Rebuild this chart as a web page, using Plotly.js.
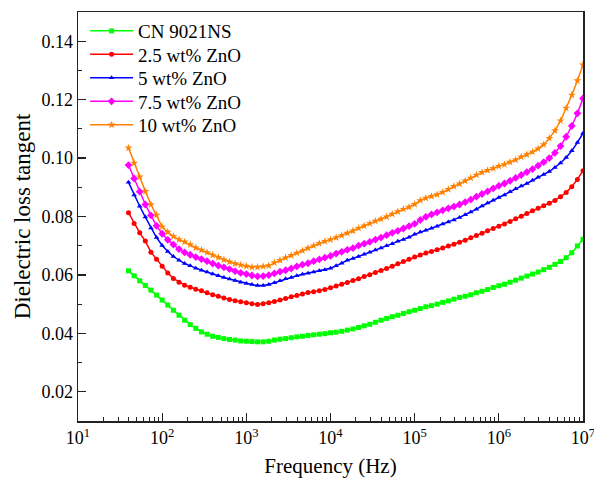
<!DOCTYPE html>
<html><head><meta charset="utf-8">
<script src="https://cdn.plot.ly/plotly-3.0.1.min.js"></script>
<style>html,body{margin:0;padding:0;background:#fff;}#chart{width:594px;height:485px;}</style>
</head><body><div id="chart"></div>
<script>
// Frequency (Hz)
const freq = [
  39.81, 46.42, 54.12, 63.10, 73.56, 85.77,
  100, 116.6, 135.9, 158.5, 184.8, 215.4, 251.2, 292.9, 341.5, 398.1, 464.2, 541.2, 631.0, 735.6, 857.7,
  1000, 1166, 1359, 1585, 1848, 2154, 2512, 2929, 3415, 3981, 4642, 5412, 6310, 7356, 8577,
  1e4, 11660, 13590, 15850, 18480, 21540, 25120, 29290, 34150, 39810, 46420, 54120, 63100, 73560, 85770,
  1e5, 116600, 135900, 158500, 184800, 215400, 251200, 292900, 341500, 398100, 464200, 541200, 631000, 735600, 857700,
  1e6, 1166000, 1359000, 1585000, 1848000, 2154000, 2512000, 2929000, 3415000, 3981000, 4642000, 5412000, 6310000, 7356000, 8577000,
  1e7
];
const seriesNames = ['CN 9021NS', '2.5 wt% ZnO', '5 wt% ZnO', '7.5 wt% ZnO', '10 wt% ZnO'];
const cn9021ns = [
  0.0614, 0.0597, 0.0580, 0.0564, 0.0548, 0.0531,
  0.0514, 0.0497, 0.0479, 0.0462, 0.0445, 0.0430, 0.0417, 0.0405, 0.0397, 0.0390, 0.0386, 0.0382, 0.0379, 0.0377, 0.0374,
  0.0373, 0.0372, 0.0371, 0.0371, 0.0373, 0.0377, 0.0380, 0.0382, 0.0385, 0.0388, 0.0390, 0.0393, 0.0395, 0.0397, 0.0399,
  0.0402, 0.0404, 0.0407, 0.0411, 0.0415, 0.0420, 0.0426, 0.0431, 0.0438, 0.0445, 0.0451, 0.0457, 0.0462, 0.0468, 0.0474,
  0.0479, 0.0485, 0.0491, 0.0495, 0.0500, 0.0506, 0.0511, 0.0517, 0.0523, 0.0527, 0.0532, 0.0539, 0.0544, 0.0550, 0.0557,
  0.0563, 0.0568, 0.0575, 0.0582, 0.0589, 0.0596, 0.0603, 0.0610, 0.0618, 0.0626, 0.0636, 0.0646, 0.0659, 0.0676, 0.0699,
  0.0722
];
const zno25 = [
  0.0813, 0.0776, 0.0744, 0.0716, 0.0678, 0.0654,
  0.0630, 0.0607, 0.0588, 0.0575, 0.0565, 0.0558, 0.0551, 0.0546, 0.0539, 0.0532, 0.0527, 0.0521, 0.0516, 0.0512, 0.0508,
  0.0505, 0.0501, 0.0499, 0.0501, 0.0505, 0.0509, 0.0514, 0.0519, 0.0525, 0.0530, 0.0535, 0.0540, 0.0542, 0.0546, 0.0550,
  0.0556, 0.0562, 0.0568, 0.0574, 0.0581, 0.0587, 0.0595, 0.0601, 0.0608, 0.0615, 0.0622, 0.0630, 0.0638, 0.0646, 0.0654,
  0.0661, 0.0668, 0.0675, 0.0680, 0.0686, 0.0692, 0.0699, 0.0705, 0.0712, 0.0719, 0.0727, 0.0735, 0.0743, 0.0751, 0.0759,
  0.0767, 0.0774, 0.0783, 0.0792, 0.0801, 0.0810, 0.0820, 0.0828, 0.0837, 0.0845, 0.0855, 0.0868, 0.0882, 0.0902, 0.0927,
  0.0957
];
const zno5 = [
  0.0917, 0.0874, 0.0835, 0.0798, 0.0761, 0.0728,
  0.0701, 0.0680, 0.0663, 0.0650, 0.0639, 0.0631, 0.0623, 0.0616, 0.0610, 0.0603, 0.0597, 0.0591, 0.0586, 0.0581, 0.0575,
  0.0571, 0.0567, 0.0564, 0.0564, 0.0567, 0.0573, 0.0580, 0.0587, 0.0591, 0.0597, 0.0602, 0.0606, 0.0610, 0.0614, 0.0618,
  0.0623, 0.0631, 0.0640, 0.0650, 0.0656, 0.0663, 0.0671, 0.0678, 0.0685, 0.0692, 0.0700, 0.0707, 0.0715, 0.0721, 0.0729,
  0.0739, 0.0747, 0.0753, 0.0760, 0.0767, 0.0774, 0.0781, 0.0788, 0.0797, 0.0806, 0.0815, 0.0825, 0.0836, 0.0846, 0.0856,
  0.0865, 0.0874, 0.0885, 0.0895, 0.0904, 0.0913, 0.0924, 0.0934, 0.0944, 0.0954, 0.0968, 0.0983, 0.1002, 0.1025, 0.1053,
  0.1085
];
const zno75 = [
  0.0976, 0.0930, 0.0885, 0.0841, 0.0804, 0.0768,
  0.0741, 0.0720, 0.0704, 0.0688, 0.0677, 0.0669, 0.0661, 0.0654, 0.0647, 0.0639, 0.0632, 0.0626, 0.0620, 0.0613, 0.0607,
  0.0603, 0.0598, 0.0595, 0.0596, 0.0599, 0.0605, 0.0611, 0.0616, 0.0622, 0.0629, 0.0635, 0.0640, 0.0647, 0.0653, 0.0659,
  0.0665, 0.0673, 0.0679, 0.0686, 0.0692, 0.0700, 0.0707, 0.0713, 0.0721, 0.0728, 0.0736, 0.0744, 0.0751, 0.0759, 0.0767,
  0.0775, 0.0788, 0.0799, 0.0807, 0.0814, 0.0821, 0.0828, 0.0834, 0.0841, 0.0849, 0.0858, 0.0868, 0.0877, 0.0886, 0.0896,
  0.0905, 0.0913, 0.0922, 0.0932, 0.0942, 0.0952, 0.0962, 0.0974, 0.0986, 0.1000, 0.1018, 0.1041, 0.1073, 0.1110, 0.1153,
  0.1204
];
const zno10 = [
  0.1035, 0.0983, 0.0936, 0.0886, 0.0841, 0.0805,
  0.0765, 0.0747, 0.0732, 0.0721, 0.0713, 0.0704, 0.0693, 0.0685, 0.0677, 0.0668, 0.0660, 0.0652, 0.0645, 0.0639, 0.0634,
  0.0630, 0.0627, 0.0627, 0.0629, 0.0632, 0.0642, 0.0650, 0.0659, 0.0667, 0.0675, 0.0683, 0.0692, 0.0700, 0.0708, 0.0715,
  0.0721, 0.0728, 0.0735, 0.0743, 0.0751, 0.0760, 0.0768, 0.0776, 0.0784, 0.0791, 0.0799, 0.0808, 0.0817, 0.0825, 0.0832,
  0.0842, 0.0855, 0.0863, 0.0869, 0.0875, 0.0883, 0.0893, 0.0903, 0.0912, 0.0922, 0.0932, 0.0942, 0.0951, 0.0958, 0.0965,
  0.0972, 0.0978, 0.0986, 0.0994, 0.1004, 0.1012, 0.1021, 0.1032, 0.1046, 0.1068, 0.1094, 0.1128, 0.1171, 0.1216, 0.1265,
  0.1319
];
const xTickVals = [1e1, 1e2, 1e3, 1e4, 1e5, 1e6, 1e7];
const xTickText = ['10<sup>1</sup>', '10<sup>2</sup>', '10<sup>3</sup>', '10<sup>4</sup>', '10<sup>5</sup>', '10<sup>6</sup>', '10<sup>7</sup>'];
const yTickVals = [0.02, 0.04, 0.06, 0.08, 0.10, 0.12, 0.14];
const yTickText = ['0.02', '0.04', '0.06', '0.08', '0.10', '0.12', '0.14'];

const colors = ['#00ff00', '#ff0000', '#0000ff', '#ff00ff', '#ff8000'];
const symbols = ['square', 'circle', 'triangle-up', 'diamond', 'star'];
const sizes = [5, 5, 5, 6, 6];
const ys = [cn9021ns, zno25, zno5, zno75, zno10];
const legendIds = ['legend', 'legend2', 'legend3', 'legend4', 'legend5'];
const legendY = [1.0, 0.9425, 0.8851, 0.8276, 0.7702];

const traces = ys.map((y, i) => ({
  x: freq, y: y, name: seriesNames[i], type: 'scatter', mode: 'lines+markers',
  legend: legendIds[i],
  line: {color: colors[i], width: 1.5},
  marker: {color: colors[i], symbol: symbols[i], size: sizes[i], line: {width: 0}}
}));

const minorX = [];
for (let d = 1; d < 7; d++) for (let m = 2; m <= 9; m++) minorX.push(m * Math.pow(10, d));

const axisCommon = {
  showgrid: false, zeroline: false, showline: true, linecolor: '#222', linewidth: 1.5, mirror: true,
  ticks: 'inside', ticklen: 8, tickwidth: 1.2, tickcolor: '#222',
  tickfont: {size: 18, color: '#000'}, ticklabeloverflow: 'allow'
};

const layout = {
  width: 594, height: 485,
  margin: {l: 78, r: 11, t: 12, b: 64, pad: 0},
  paper_bgcolor: '#fff', plot_bgcolor: '#fff',
  font: {family: '"Liberation Serif", "Times New Roman", serif', size: 18, color: '#000'},
  showlegend: true,
  xaxis: Object.assign({}, axisCommon, {
    type: 'log', range: [1, 7], tickmode: 'array', tickvals: xTickVals, ticktext: xTickText,
    minor: {tickmode: 'array', tickvals: minorX, ticks: 'inside', ticklen: 4, tickwidth: 1, tickcolor: '#222', showgrid: false},
    title: {text: 'Frequency (Hz)', font: {size: 21}, standoff: 11}
  }),
  yaxis: Object.assign({}, axisCommon, {
    range: [0.01, 0.15], tickmode: 'array', tickvals: yTickVals, ticktext: yTickText,
    minor: {dtick: 0.01, tick0: 0, ticks: 'inside', ticklen: 4, tickwidth: 1, tickcolor: '#222', showgrid: false},
    title: {text: 'Dielectric loss tangent', font: {size: 23}, standoff: 4}
  })
};
legendIds.forEach((id, i) => {
  layout[id] = {x: 0.014, y: legendY[i], xanchor: 'left', yanchor: 'top', bgcolor: 'rgba(0,0,0,0)',
                font: {size: 19, color: '#000'}, itemwidth: 43};
});

Plotly.newPlot('chart', traces, layout, {displayModeBar: false, staticPlot: true});
</script>
</body></html>
